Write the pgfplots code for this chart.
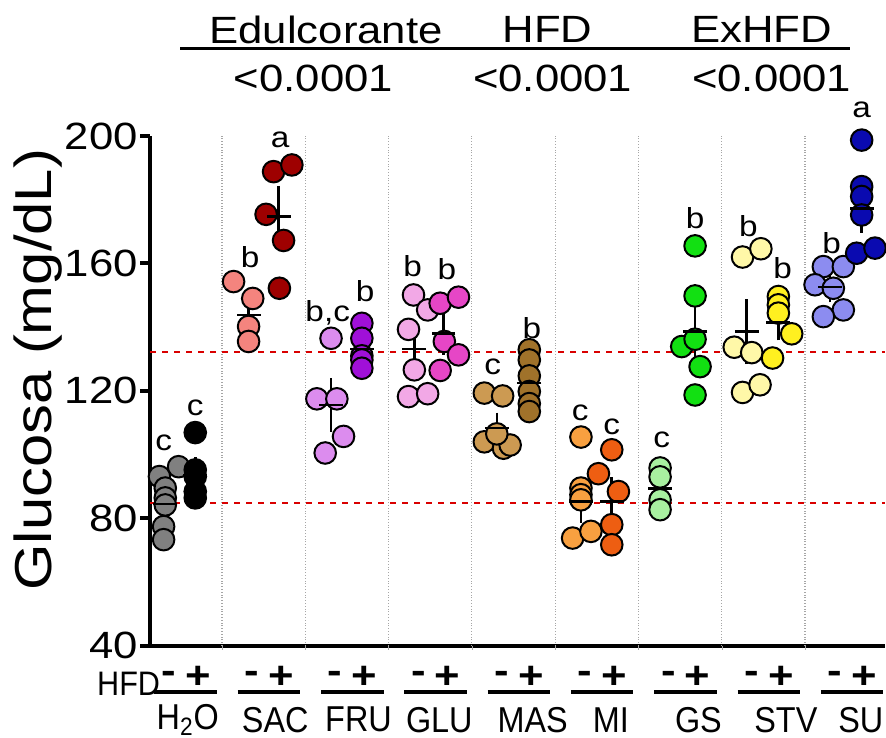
\documentclass[border=0pt]{standalone}
\usepackage{fontspec}
\setmainfont{Liberation Sans}[FakeStretch=1.15]
\newfontfamily\namefont{Liberation Sans}[FakeStretch=0.9]
\usepackage{pgfplots}
\pgfplotsset{compat=1.18}

\definecolor{hmin}{HTML}{808080}
\definecolor{hplus}{HTML}{000000}
\definecolor{sacmin}{HTML}{F4847E}
\definecolor{sacplus}{HTML}{9E0000}
\definecolor{frumin}{HTML}{DC8CEE}
\definecolor{fruplus}{HTML}{A010D8}
\definecolor{glumin}{HTML}{F2A8E6}
\definecolor{gluplus}{HTML}{E646C6}
\definecolor{masmin}{HTML}{CC9A52}
\definecolor{masplus}{HTML}{A0722A}
\definecolor{mimin}{HTML}{F8A040}
\definecolor{miplus}{HTML}{EE5E12}
\definecolor{gsmin}{HTML}{A8F0A0}
\definecolor{gsplus}{HTML}{12E012}
\definecolor{stvmin}{HTML}{FFF8A8}
\definecolor{stvplus}{HTML}{FFF020}
\definecolor{sumin}{HTML}{8C8CF0}
\definecolor{suplus}{HTML}{0A0AB0}

\pgfplotsset{
  dots/.style={only marks, mark=*, mark size=5.4pt,
    mark options={fill=#1, draw=black, line width=1pt}},
  meansem/.style={black, only marks, mark=-, mark size=6pt,
    mark options={line width=1.3pt},
    error bars/.cd, y dir=both, y explicit,
    error bar style={line width=1.3pt},
    error mark options={line width=1.3pt, mark size=3.5pt, black}},
}

\newcommand{\lt}[3]{\node[font=\fontsize{14.5}{14.5}\selectfont] at (axis cs:#1,#2) {#3};}
\newcommand{\nm}[2]{\node[font=\namefont\fontsize{18}{18}\selectfont] at (axis cs:#1,16.8) {#2};}

\begin{document}
\begin{tikzpicture}
\begin{axis}[
  scale only axis,
  width=367.5pt, height=255pt,
  xmin=-0.36, xmax=8.46,
  ymin=40, ymax=200,
  clip=false,
  axis x line*=bottom, axis y line*=left,
  axis line style={-, line width=2pt},
  xtick=\empty,
  extra x ticks={0.5,1.5,2.5,3.5,4.5,5.5,6.5,7.5},
  extra x tick labels={},
  extra x tick style={grid=major, major grid style={densely dotted, gray!70, line width=0.6pt},
    major tick length=2pt, tick style={gray!70}},
  ytick={40,80,120,160,200},
  tick align=outside,
  major tick length=5pt,
  y tick style={line width=2pt, black},
  /pgf/number format/assume math mode=true,
  yticklabel style={font=\fontsize{19}{19}\selectfont, inner xsep=1pt},
]

% reference lines
\addplot[red!85!black, dashed, line width=1pt] coordinates {(-0.36,132.2) (8.46,132.2)};
\addplot[red!85!black, dashed, line width=1pt] coordinates {(-0.36,84.9) (8.46,84.9)};

% H2O
\addplot[dots=hmin] coordinates {(-0.25,93.1) (-0.02,96.2) (-0.18,89.5) (-0.18,86.4) (-0.18,84.2) (-0.20,77.4) (-0.20,73.3)};
\addplot[dots=hplus] coordinates {(0.18,106.9) (0.18,95.2) (0.18,93.1) (0.18,88.4) (0.18,86.4)};
% SAC
\addplot[dots=sacmin] coordinates {(0.64,154.3) (0.87,149.0) (0.82,140.2) (0.82,135.5)};
\addplot[dots=sacplus] coordinates {(1.12,188.8) (1.34,190.9) (1.03,175.4) (1.24,167.2) (1.19,152.2)};
% FRU
\addplot[dots=frumin] coordinates {(1.81,136.5) (1.64,117.5) (1.88,117.5) (1.96,105.7) (1.74,100.5)};
\addplot[dots=fruplus] coordinates {(2.18,141.2) (2.18,136.5) (2.18,131.0) (2.18,129.7) (2.18,127.1)};
% GLU
\addplot[dots=glumin] coordinates {(2.80,150.1) (2.97,145.4) (2.74,139.3) (2.81,126.6) (2.74,118.2) (2.97,119.1)};
\addplot[dots=gluplus] coordinates {(3.12,147.5) (3.34,149.4) (3.17,135.5) (3.34,131.3) (3.12,126.4)};
% MAS
\addplot[dots=masmin] coordinates {(3.65,119.3) (3.87,118.4) (3.65,104.0) (3.88,102.0) (3.96,103.0) (3.80,106.5)};
\addplot[dots=masplus] coordinates {(4.19,132.9) (4.19,129.7) (4.19,124.7) (4.19,119.8) (4.19,116.0) (4.19,113.5)};
% MI
\addplot[dots=mimin] coordinates {(4.81,105.5) (4.81,89.5) (4.81,87.4) (4.81,85.8) (4.71,73.8) (4.93,75.9)};
\addplot[dots=miplus] coordinates {(5.18,101.5) (5.02,94.0) (5.26,88.4) (5.18,78.0) (5.18,71.7)};
% GS
\addplot[dots=gsmin] coordinates {(5.76,95.8) (5.76,93.0) (5.76,85.8) (5.76,82.7)};
\addplot[dots=gsplus] coordinates {(6.18,165.5) (6.18,149.8) (6.02,133.9) (6.18,136.2) (6.24,127.6) (6.18,118.7)};
% STV
\addplot[dots=stvmin] coordinates {(6.75,162.0) (6.97,164.6) (6.65,133.7) (6.86,132.0) (6.75,119.5) (6.96,121.9)};
\addplot[dots=stvplus] coordinates {(7.18,149.6) (7.18,147.0) (7.18,144.4) (7.34,137.9) (7.11,130.3)};
% SU
\addplot[dots=sumin] coordinates {(7.72,159.0) (7.96,159.0) (7.62,153.3) (7.84,152.2) (7.96,145.4) (7.72,143.3)};
\addplot[dots=suplus] coordinates {(8.18,198.7) (8.18,184.1) (8.18,181.0) (8.18,175.2) (8.12,163.2) (8.34,164.8)};

% mean +- SEM
\addplot[meansem] coordinates {
  (-0.18,84.5) +- (0,3.0)   (0.18,93.5) +- (0,3.5)
  (0.82,143.8) +- (0,3.0)   (1.18,174.7) +- (0,7.4)
  (1.81,115.5) +- (0,6.2)   (2.18,133.1) +- (0,2.5)
  (2.81,133.1) +- (0,5.6)   (3.16,138.0) +- (0,4.5)
  (3.80,108.3) +- (0,2.7)   (4.19,122.5) +- (0,3.0)
  (4.81,85.3) +- (0,4.5)    (5.18,85.3) +- (0,5.4)
  (5.76,89.3) +- (0,3.0)    (6.18,138.6) +- (0,6.8)
  (6.80,138.6) +- (0,8.0)   (7.18,141.5) +- (0,3.5)
  (7.80,152.6) +- (0,2.6)   (8.18,177.3) +- (0,5.5)
};

% group letters
\lt{-0.20}{103.7}{c} \lt{0.18}{114.7}{c}
\lt{0.84}{162.1}{b} \lt{1.20}{198.7}{a}
\lt{1.77}{144.5}{b,c} \lt{2.22}{151.2}{b}
\lt{2.79}{159.0}{b} \lt{3.20}{158.1}{b}
\lt{3.75}{127.6}{c} \lt{4.22}{139.7}{b}
\lt{4.80}{113.1}{c} \lt{5.18}{108.8}{c}
\lt{5.78}{104.6}{c} \lt{6.18}{174.2}{b}
\lt{6.82}{171.6}{b} \lt{7.23}{158.5}{b}
\lt{7.82}{166.3}{b} \lt{8.18}{208.2}{a}

% y label
\node[rotate=90, font=\fontsize{26}{26}\selectfont] at (axis cs:-1.71,126.6) {Glucosa (mg/dL)};

% top annotation
\node[font=\fontsize{19}{19}\selectfont] at (axis cs:1.75,233.3) {Edulcorante};
\node[font=\fontsize{19}{19}\selectfont] at (axis cs:4.41,233.3) {HFD};
\node[font=\fontsize{19}{19}\selectfont] at (axis cs:6.98,233.3) {ExHFD};
\draw[line width=1.5pt] (axis cs:0.0,227.6) -- (axis cs:8.04,227.6);
\node[font=\fontsize{19}{19}\selectfont] at (axis cs:1.60,218.2) {<0.0001};
\node[font=\fontsize{19}{19}\selectfont] at (axis cs:4.47,218.2) {<0.0001};
\node[font=\fontsize{19}{19}\selectfont] at (axis cs:7.10,218.2) {<0.0001};

% bottom labels
\node[font=\namefont\fontsize{17}{17}\selectfont] at (axis cs:-0.62,28.2) {HFD};
\pgfplotsinvokeforeach{0,1,2,3,4,5,6,7,8}{
  \node[font=\bfseries\fontsize{19}{19}\selectfont] at (axis cs:#1-0.14,30.2) {-};
  \node[font=\bfseries\fontsize{19}{19}\selectfont] at (axis cs:#1+0.21,30.2) {+};
  \draw[line width=2pt] (axis cs:#1-0.31,25.6) -- (axis cs:#1+0.44,25.6);
}
\nm{0.09}{H\textsubscript{2}O}
\nm{1.14}{SAC}
\nm{2.14}{FRU}
\nm{3.11}{GLU}
\nm{4.23}{MAS}
\nm{5.17}{MI}
\nm{6.22}{GS}
\nm{7.27}{STV}
\nm{8.17}{SU}

\coordinate (bl) at (axis cs:-2.164,11.14);
\coordinate (tr) at (axis cs:8.472,242.67);
\end{axis}
\pgfresetboundingbox
\path (bl) rectangle (tr);
\end{tikzpicture}
\end{document}
